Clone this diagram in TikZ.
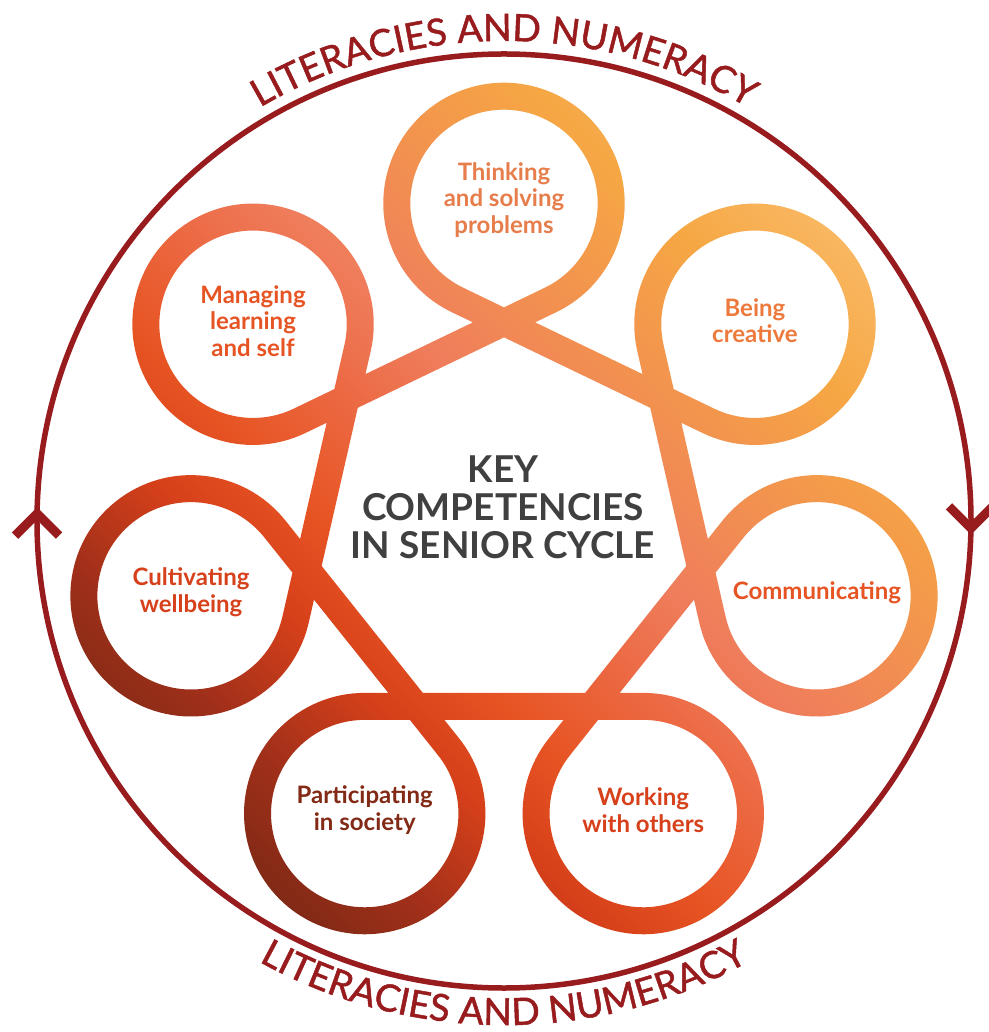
\documentclass[tikz,border=0pt]{standalone}
\usepackage{fontspec}
\setmainfont{Lato}
\newfontfamily\ringfam{Lato}[FakeBold=1.3]
\usetikzlibrary{calc,fadings,decorations.text}

\definecolor{litred}{HTML}{981B1E}
\definecolor{titlegrey}{HTML}{404040}
\definecolor{thinkcol}{HTML}{E67D4B}
\definecolor{rib0}{HTML}{7A2815}
\definecolor{rib1}{HTML}{A3301A}
\definecolor{rib2}{HTML}{D6401A}
\definecolor{rib3}{HTML}{E75423}
\definecolor{rib4}{HTML}{EC6A44}
\definecolor{rib5}{HTML}{EF7D5C}
\definecolor{rib6}{HTML}{F2924F}
\definecolor{rib7}{HTML}{F6A744}
\definecolor{rib8}{HTML}{F9BA66}

\pgfdeclarehorizontalshading{ribbonshade}{100bp}{color(0bp)=(rib0); color(25bp)=(rib0);
  color(31.7bp)=(rib1); color(37.8bp)=(rib2); color(42.8bp)=(rib3); color(48.9bp)=(rib4);
  color(53.9bp)=(rib5); color(61.1bp)=(rib6); color(68.3bp)=(rib7); color(75.6bp)=(rib8);
  color(100bp)=(rib8)}

% the band: seven loops joined by the sides of a heptagon
\newcommand{\ribbon}[1]{%
  \draw[#1] (90:202)
    \foreach \k [evaluate=\k as \p using {90-\k*360/7}] in {0,...,6}{
      -- ($(\p:321)+(\p-154.29:107.2)$)
      arc[start angle=\p-154.29, delta angle=308.57, radius=107.2]
    } -- cycle;}

\begin{tikzfadingfrompicture}[name=ribbonfade, x=1pt, y=1pt]
  \path (-450,-450) rectangle (450,450);
  \ribbon{line width=27, draw=transparent!0}
\end{tikzfadingfrompicture}

\tikzset{
  rim/.style={draw=litred, line width=5.5},
  chev/.style={draw=litred, line width=9, line cap=butt, line join=miter},
  ringtext/.style={decorate, decoration={text along path, text align=center, text color=litred}},
  lbl/.style={align=center, inner sep=0pt, font=\bfseries\fontsize{24}{26.5}\selectfont},
  title/.style={align=center, inner sep=0pt, text=titlegrey, font=\bfseries\fontsize{37}{38}\selectfont}
}
\newcommand{\ringfont}{\ringfam\fontsize{37.5}{38}\selectfont}

\begin{document}
\begin{tikzpicture}[x=1pt, y=1pt]
  \useasboundingbox (-504,-511) rectangle (484,521);
  \fill[white] (-504,-511) rectangle (484,521);
  \coordinate (O) at (0,0);

  % outer ring with its two turning marks
  \draw[rim] (O) circle[radius=467];
  \draw[chev] ($(179.1:467)+(-22,-22)$) -- (179.1:467) -- ++(22,-22);
  \draw[chev] ($(-0.9:467)+(-22,22)$) -- (-0.9:467) -- ++(22,22);

  \path[ringtext, decoration={text={|\ringfont|LITERACIES AND NUMERACY}}]
    (150:480) arc[start angle=150, end angle=30, radius=480];
  \path[ringtext, decoration={text={|\ringfont|LITERACIES AND NUMERACY}}]
    (210:504) arc[start angle=210, end angle=330, radius=504];

  % shaded band
  \shade[path fading=ribbonfade, fit fading=false, shading=ribbonshade, shading angle=45]
    (-450,-450) rectangle (450,450);

  \node[title] (keycomp) at (-1,14) {KEY\\COMPETENCIES\\IN SENIOR CYCLE};

  \node[lbl, text=thinkcol] (thinking) at (90:321) {Thinking\\and solving\\problems};
  \node[lbl, text=rib3!40!rib6] (creative) at (38.57:321) {Being\\creative};
  \node[lbl, text=rib3] (communic) at (-12.86:321) {Communicating};
  \node[lbl, text=rib2] (working) at (-64.29:321) {Working\\with others};
  \node[lbl, text=rib0!80!rib1] (society) at (-115.71:321) {Participating\\in society};
  \node[lbl, text=rib2] (wellbeing) at (-167.14:321) {Cultivating\\wellbeing};
  \node[lbl, text=rib3] (managing) at (141.43:321) {Managing\\learning\\and self};
\end{tikzpicture}
\end{document}
